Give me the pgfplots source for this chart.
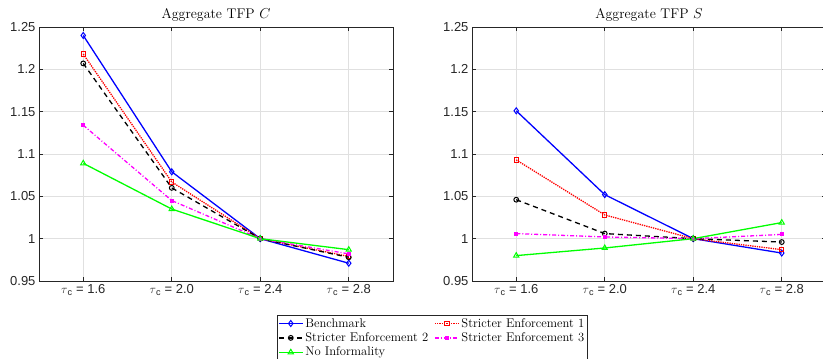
\documentclass[border=0pt]{standalone}
\usepackage{fontspec}
\usepackage{pgfplots}
\pgfplotsset{compat=1.18}
\newfontfamily\arial{Liberation Sans}
\definecolor{axgray}{gray}{0.15}
\definecolor{grdgray}{gray}{0.88}
\definecolor{mblue}{rgb}{0,0,1}
\definecolor{mred}{rgb}{1,0,0}
\definecolor{mmag}{rgb}{1,0,1}
\definecolor{mgreen}{rgb}{0,1,0}
\pgfplotsset{
  mystyle/.style={
    scale only axis, width=354pt, height=254pt,
    xmin=0.5, xmax=4.5, ymin=0.95, ymax=1.25,
    xtick={1,2,3,4},
    xticklabels={{$\tau${\arial\textsubscript{c}} = 1.6},{$\tau${\arial\textsubscript{c}} = 2.0},{$\tau${\arial\textsubscript{c}} = 2.4},{$\tau${\arial\textsubscript{c}} = 2.8}},
    ytick={0.95,1,1.05,1.1,1.15,1.2,1.25},
    yticklabels={0.95,1,1.05,1.1,1.15,1.2,1.25},
    ticklabel style={font=\arial\fontsize{13}{14}\selectfont, text=axgray},
    grid=major, major grid style={grdgray, line width=0.7pt},
    axis line style={axgray, line width=0.7pt},
    tick style={axgray, line width=0.7pt},
    major tick length=4pt,
    tick align=inside,
    title style={font=\fontsize{14}{16}\selectfont, yshift=-4pt},
    every axis plot/.append style={line width=1.3pt},
  },
  bm/.style={mblue, solid, mark=diamond, mark size=3pt, mark options={solid, line width=1pt}},
  se1/.style={mred, densely dotted, mark=square, mark size=2.2pt, mark options={solid, line width=1pt}},
  se2/.style={black, dashed, dash pattern=on 5pt off 4pt, mark=o, mark size=2.4pt, mark options={solid, line width=1pt}},
  se3/.style={mmag, dash pattern=on 4pt off 2pt on 1pt off 2pt, mark=square*, mark size=1.3pt, mark options={solid}},
  ni/.style={mgreen, solid, mark=triangle, mark size=3pt, mark options={solid, line width=1pt}},
}
\begin{document}
\begin{tikzpicture}
\useasboundingbox (0,0) rectangle (823pt,359pt);
\clip (0,0) rectangle (823pt,359pt);
\begin{axis}[mystyle, at={(39pt,78pt)}, anchor=south west,
  title={Aggregate TFP $C$},
  legend columns=2,
  legend style={at={(0.672,-0.134)}, anchor=north west, draw=axgray, line width=0.6pt,
    font=\fontsize{12.6}{15.5}\selectfont, inner sep=1pt, row sep=0pt,
    /tikz/every even column/.append style={column sep=4pt}},
  legend cell align=left,
  legend image post style={line width=1.3pt},
  legend image code/.code={%
    \draw[mark=none] (0cm,0cm) -- (0.84cm,0cm);
    \draw[only marks] plot coordinates {(0.42cm,0cm)};},
  ]
\addplot[bm] coordinates {(1,1.240) (2,1.079) (3,1.000) (4,0.971)};
\addlegendentry{Benchmark}
\addplot[se1] coordinates {(1,1.218) (2,1.067) (3,1.000) (4,0.979)};
\addlegendentry{Stricter Enforcement 1}
\addplot[se2] coordinates {(1,1.207) (2,1.060) (3,1.000) (4,0.978)};
\addlegendentry{Stricter Enforcement 2}
\addplot[se3] coordinates {(1,1.134) (2,1.045) (3,1.000) (4,0.982)};
\addlegendentry{Stricter Enforcement 3}
\addplot[ni] coordinates {(1,1.089) (2,1.035) (3,1.000) (4,0.987)};
\addlegendentry{No Informality}
\end{axis}
\begin{axis}[mystyle, at={(472pt,78pt)}, anchor=south west,
  title={Aggregate TFP $S$}]
\addplot[bm] coordinates {(1,1.151) (2,1.052) (3,1.000) (4,0.983)};
\addplot[se1] coordinates {(1,1.093) (2,1.028) (3,1.000) (4,0.987)};
\addplot[se2] coordinates {(1,1.046) (2,1.006) (3,1.000) (4,0.996)};
\addplot[se3] coordinates {(1,1.006) (2,1.002) (3,1.000) (4,1.005)};
\addplot[ni] coordinates {(1,0.980) (2,0.989) (3,1.000) (4,1.019)};
\end{axis}
\end{tikzpicture}
\end{document}
